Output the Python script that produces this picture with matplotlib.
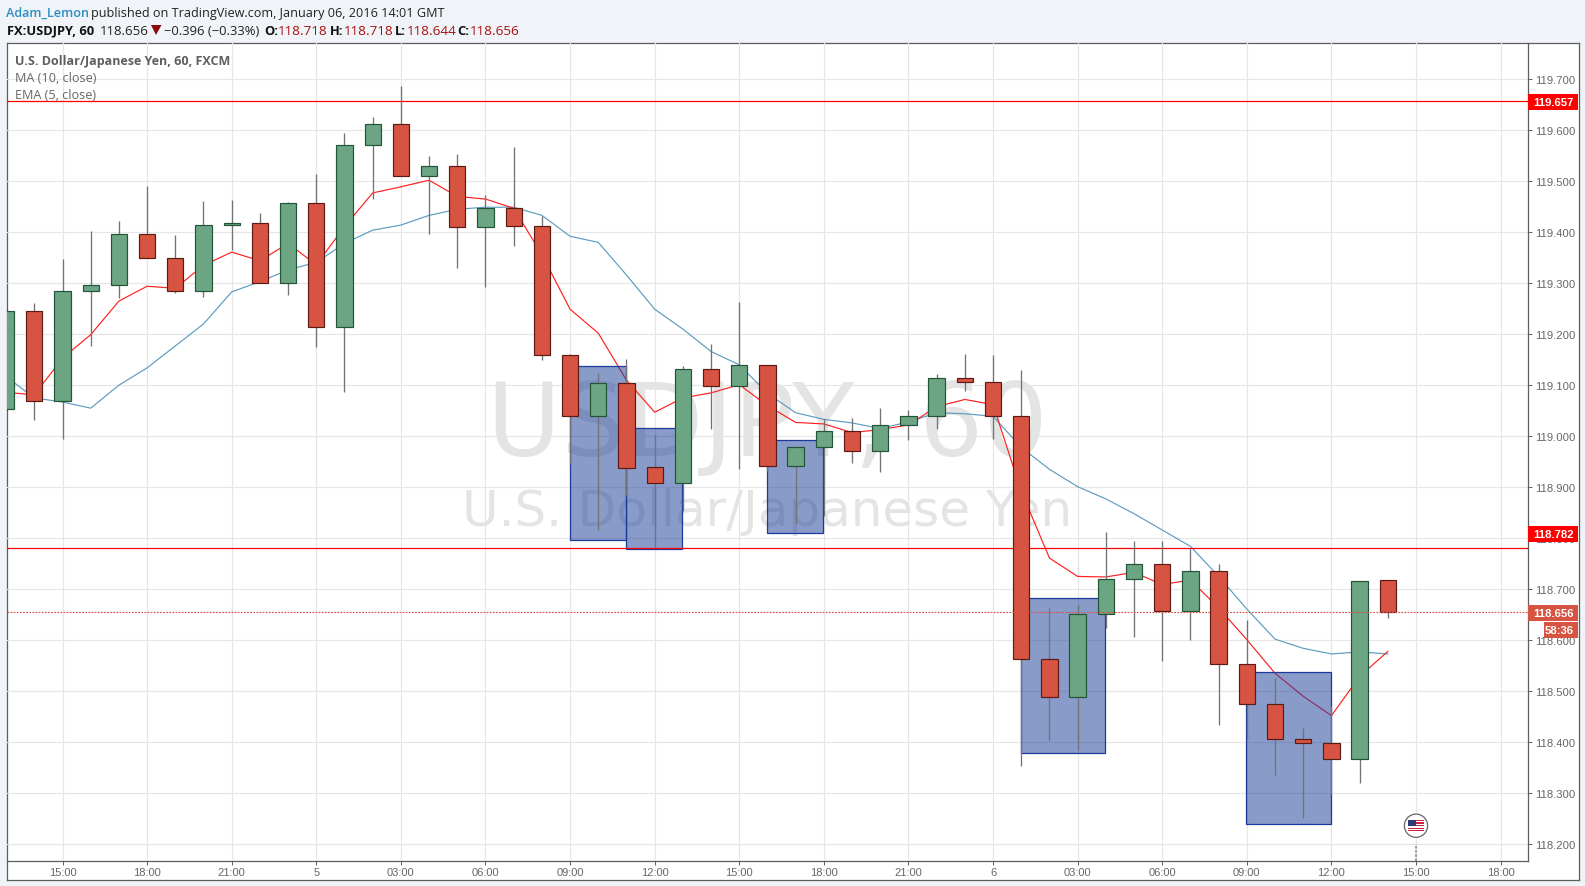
import numpy as np
import matplotlib
matplotlib.use("Agg")
import matplotlib.pyplot as plt
from matplotlib.patches import Rectangle, Circle, Polygon

W, H = 1585, 887

hours = list(range(-2, 48))
opens = [119.053, 119.245, 119.069, 119.284, 119.296, 119.396, 119.349, 119.284, 119.414, 119.418,
         119.300, 119.457, 119.214, 119.571, 119.612, 119.510, 119.529, 119.410, 119.447, 119.412,
         119.159, 119.039, 119.104, 118.939, 118.909, 119.131, 119.099, 119.139, 118.942, 118.978,
         119.011, 118.970, 119.021, 119.039, 119.115, 119.107, 119.039, 118.563, 118.488, 118.651,
         118.720, 118.749, 118.657, 118.735, 118.553, 118.475, 118.406, 118.398, 118.367, 118.718]
highs = [119.245, 119.261, 119.347, 119.402, 119.422, 119.490, 119.394, 119.461, 119.463, 119.437,
         119.459, 119.514, 119.594, 119.625, 119.687, 119.550, 119.554, 119.473, 119.567, 119.431,
         119.161, 119.124, 119.152, 119.004, 119.137, 119.180, 119.263, 119.139, 118.978, 119.034,
         119.035, 119.056, 119.052, 119.122, 119.161, 119.159, 119.130, 118.663, 118.669, 118.812,
         118.794, 118.794, 118.781, 118.749, 118.639, 118.525, 118.427, 118.471, 118.716, 118.718]
lows = [119.053, 119.031, 118.995, 119.176, 119.270, 119.349, 119.280, 119.272, 119.365, 119.300,
        119.276, 119.174, 119.086, 119.465, 119.510, 119.397, 119.329, 119.292, 119.372, 119.150,
        118.946, 118.816, 118.884, 118.782, 118.854, 119.014, 118.936, 118.932, 118.828, 118.844,
        118.948, 118.930, 118.993, 119.014, 119.088, 118.995, 118.354, 118.405, 118.384, 118.623,
        118.607, 118.560, 118.601, 118.433, 118.407, 118.336, 118.251, 118.299, 118.320, 118.644]
closes = [119.245, 119.069, 119.284, 119.296, 119.396, 119.349, 119.284, 119.414, 119.418, 119.300,
          119.457, 119.214, 119.571, 119.612, 119.510, 119.529, 119.410, 119.447, 119.412, 119.159,
          119.039, 119.104, 118.938, 118.909, 119.131, 119.099, 119.139, 118.942, 118.978, 119.011,
          118.970, 119.021, 119.039, 119.115, 119.107, 119.039, 118.563, 118.488, 118.651, 118.720,
          118.749, 118.657, 118.735, 118.553, 118.475, 118.406, 118.398, 118.367, 118.716, 118.656]
ema5 = [119.086, 119.081, 119.153, 119.199, 119.265, 119.294, 119.290, 119.335, 119.361, 119.344,
        119.378, 119.336, 119.411, 119.477, 119.489, 119.502, 119.470, 119.465, 119.447, 119.356,
        119.249, 119.202, 119.110, 119.047, 119.075, 119.085, 119.101, 119.060, 119.027, 119.024,
        119.007, 119.013, 119.022, 119.058, 119.072, 119.062, 118.892, 118.761, 118.725, 118.724,
        118.733, 118.709, 118.718, 118.663, 118.601, 118.535, 118.490, 118.452, 118.529, 118.578]
ma10 = [119.117, 119.075, 119.067, 119.055, 119.100, 119.134, 119.177, 119.220, 119.283, 119.303,
        119.326, 119.341, 119.378, 119.404, 119.414, 119.433, 119.445, 119.449, 119.449, 119.433,
        119.392, 119.380, 119.316, 119.249, 119.210, 119.166, 119.140, 119.084, 119.046, 119.033,
        119.026, 119.015, 119.028, 119.046, 119.044, 119.039, 118.978, 118.935, 118.901, 118.877,
        118.848, 118.816, 118.784, 118.725, 118.661, 118.602, 118.584, 118.573, 118.577, 118.573]

# x0, x1, low, high of the drawn boxes
boxes = [(18, 20, 118.796, 119.137),
         (20, 22, 118.778, 119.016),
         (25, 27, 118.810, 118.992),
         (34, 37, 118.378, 118.682),
         (42, 45, 118.239, 118.537)]

price_ticks = [118.2, 118.3, 118.4, 118.5, 118.6, 118.7, 118.8, 118.9, 119.0,
               119.1, 119.2, 119.3, 119.4, 119.5, 119.6, 119.7]
time_ticks = list(range(0, 52, 3))
time_labels = ["15:00", "18:00", "21:00", "5", "03:00", "06:00", "09:00", "12:00", "15:00",
               "18:00", "21:00", "6", "03:00", "06:00", "09:00", "12:00", "15:00", "18:00"]
level_high = 119.657
level_low = 118.780
last_price = 118.656

UP, UP_EDGE = "#6ba583", "#225437"
DOWN, DOWN_EDGE = "#d75442", "#5b1a13"
WICK = "#737375"
GRID = "#e6e6e6"
FRAME = "#5d5d5d"
TEXT = "#666666"
SHIFT = 1


def fx(x):
    return x / W


def fy(y):
    return 1 - (y + SHIFT) / H


def pixel_axes(left, top, right, bottom):
    return fig.add_axes([fx(left), fy(bottom), (right - left) / W, (bottom - top) / H])


fig = plt.figure(figsize=(W / 100, H / 100), dpi=100, facecolor="#f0f3f7")

# outer frame
frame = pixel_axes(6.5, 43, 1578.5, 880)
frame.set_xticks([])
frame.set_yticks([])
for s in frame.spines.values():
    s.set_color(FRAME)
    s.set_linewidth(0.9)

ax = pixel_axes(6.5, 43, 1528, 861)
ax.set_xlim(-1.986, 51.97)
ax.set_ylim(118.167, 119.771)
ax.patch.set_alpha(0)
for name in ["top", "left"]:
    ax.spines[name].set_visible(False)
for name in ["right", "bottom"]:
    ax.spines[name].set_color(FRAME)
    ax.spines[name].set_linewidth(0.9)

ax.set_xticks(time_ticks)
ax.set_xticklabels(time_labels, fontfamily="Liberation Sans", fontsize=8, color=TEXT)
ax.yaxis.tick_right()
ax.set_yticks(price_ticks)
ax.set_yticklabels([f"{p:.3f}" for p in price_ticks], fontfamily="Liberation Sans",
                   fontsize=8.1, color=TEXT)
ax.tick_params(axis="y", length=2.9, width=0.7, color=FRAME, pad=2.2)
ax.tick_params(axis="x", length=2.9, width=0.7, color=FRAME, pad=1.2)
ax.grid(True, color=GRID, linewidth=0.85, zorder=1)
ax.set_axisbelow(True)

ax.text(0.5, (861 - 455) / 818, "USDJPY, 60", transform=ax.transAxes, ha="center", va="baseline",
        fontsize=73, color="#e4e4e4", zorder=1.5, fontfamily="DejaVu Sans")
ax.text(0.5, (861 - 525) / 818, "U.S. Dollar/Japanese Yen", transform=ax.transAxes,
        ha="center", va="baseline", fontsize=36, color="#e4e4e4", zorder=1.5,
        fontfamily="DejaVu Sans")

ax.plot(hours, ma10, color="#5b9cbf", linewidth=0.85, zorder=2)
ax.plot(hours, ema5, color="#ff2020", linewidth=0.85, zorder=2.1)

for x0, x1, y0, y1 in boxes:
    ax.add_patch(Rectangle((x0 - 0.02, y0), x1 - x0, y1 - y0, facecolor=(0.118, 0.247, 0.6, 0.52),
                           edgecolor="#1a3b9c", linewidth=0.9, zorder=3))

ax.axhline(level_high, color="#ff0000", linewidth=0.9, zorder=3.5)
ax.axhline(level_low, color="#ff0000", linewidth=0.9, zorder=3.5)

for h, o, hi, lo, c in zip(hours, opens, highs, lows, closes):
    rising = c >= o
    ax.vlines(h, lo, hi, color=WICK, linewidth=0.95, zorder=4)
    ax.add_patch(Rectangle((h - 0.29, min(o, c)), 0.58, abs(c - o),
                           facecolor=UP if rising else DOWN,
                           edgecolor=UP_EDGE if rising else DOWN_EDGE,
                           linewidth=0.85, zorder=5))

ax.axhline(last_price, color=DOWN, linewidth=0.8, linestyle=(0, (1.6, 1.2)), zorder=6)

# price labels on the scale
scale = pixel_axes(1528, 43, 1578, 861)
scale.set_xlim(1528, 1578)
scale.set_ylim(861, 43)
scale.axis("off")
scale.patch.set_alpha(0)
for top, bottom, left, colour, label in [(526, 542, 1528, "#ff0000", "118.782"),
                                         (94, 110, 1528, "#ff0000", "119.657"),
                                         (605, 621, 1528, DOWN, "118.656"),
                                         (622, 638, 1544, DOWN, "58:36")]:
    scale.add_patch(Rectangle((left, top), 1578 - left, bottom - top, facecolor=colour,
                              edgecolor="none", zorder=2))
    scale.text(1574, (top + bottom) / 2 + 0.3, label, color="white", fontsize=8.1,
               fontweight="bold", fontfamily="Liberation Sans", ha="right", va="center", zorder=3)

# event marker
ax.plot([48, 48], [118.167, 118.2], color="#8a8a8a", linewidth=1.2, linestyle=(0, (1.5, 1)),
        zorder=6)
overlay = fig.add_axes([0, 0, 1, 1])
overlay.set_xlim(0, W)
overlay.set_ylim(H - SHIFT, -SHIFT)
overlay.axis("off")
overlay.patch.set_alpha(0)
overlay.add_patch(Circle((1416, 825.7), 11.6, facecolor="white", edgecolor="#666666", linewidth=0.9))
for k in range(7):
    overlay.add_patch(Rectangle((1408, 820 + k * 1.65), 16, 0.85, facecolor="#c8213a",
                                edgecolor="none"))
overlay.add_patch(Rectangle((1408, 820), 8, 5.8, facecolor="#2c3a78", edgecolor="none"))

# chart legend
overlay.text(15, 60, "U.S. Dollar/Japanese Yen, 60, FXCM", fontfamily="Open Sans", fontsize=9,
             fontweight="bold", color="#5f5f5f", va="center")
overlay.text(15, 77, "MA (10, close)", fontfamily="Open Sans", fontsize=9.1, color=TEXT, va="center")
overlay.text(15, 94, "EMA (5, close)", fontfamily="Open Sans", fontsize=9.1, color=TEXT, va="center")

# page header
overlay.text(6, 12, "Adam_Lemon", fontfamily="Open Sans", fontsize=9.05, color="#2b8fc4",
             fontweight="semibold", va="center")
overlay.text(91, 12, "published on TradingView.com, January 06, 2016 14:01 GMT", fontfamily="Open Sans",
             fontsize=9.05, color="#222222", va="center")
header_parts = [(7, "FX:USDJPY, 60", "bold", "#111111", 9.3),
                (100, "118.656", "normal", "#222222", 9.5),
                (164.5, "\u22120.396 (\u22120.33%)", "normal", "#222222", 9.4),
                (264.5, "O:", "bold", "#111111", 9.3), (278, "118.718", "normal", "#a80f0f", 9.7),
                (330, "H:", "bold", "#111111", 9.3), (344, "118.718", "normal", "#a80f0f", 9.7),
                (395, "L:", "bold", "#111111", 9.3), (407, "118.644", "normal", "#a80f0f", 9.7),
                (457.5, "C:", "bold", "#111111", 9.3), (470, "118.656", "normal", "#a80f0f", 9.7)]
for x, label, weight, colour, size in header_parts:
    overlay.text(x, 30, label, fontfamily="Open Sans", fontsize=size, fontweight=weight,
                 color=colour, va="center")
overlay.add_patch(Polygon([(151, 25), (161.5, 25), (156, 35)], facecolor="#8b0a0a",
                          edgecolor="none"))

fig.savefig("out.png", dpi=100, facecolor=fig.get_facecolor())
